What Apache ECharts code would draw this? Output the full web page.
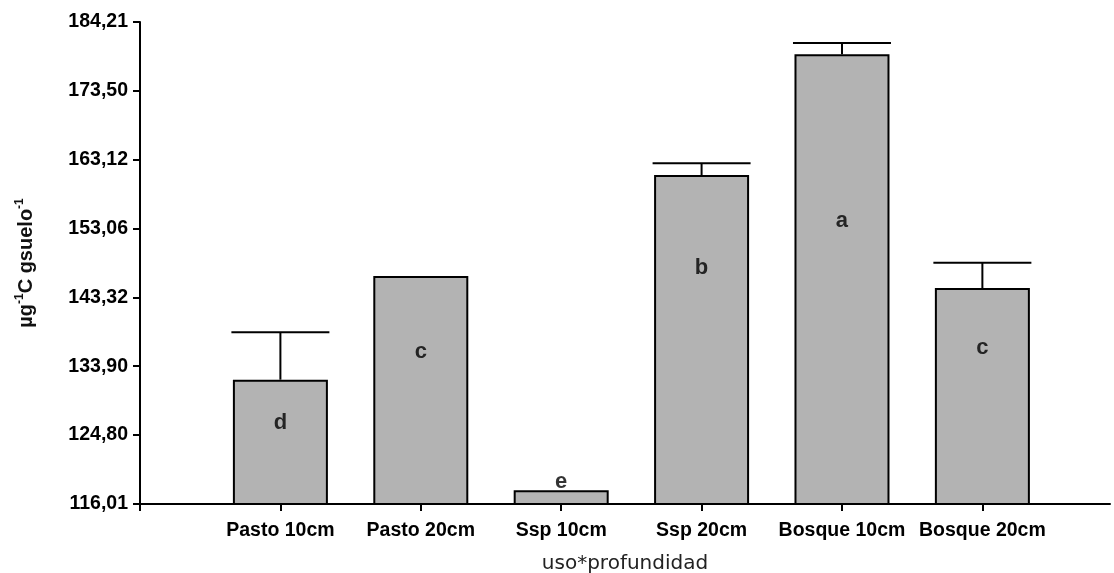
<!DOCTYPE html>
<html>
<head>
<meta charset="utf-8">
<script src="https://cdn.jsdelivr.net/npm/echarts@6/dist/echarts.min.js"></script>
<style>
html,body{margin:0;padding:0;background:#fff;}
#main{width:1114px;height:573px;}
</style>
</head>
<body>
<div id="main"></div>
<script>
// ---- data ----
const categories = ['Pasto 10cm', 'Pasto 20cm', 'Ssp 10cm', 'Ssp 20cm', 'Bosque 10cm', 'Bosque 20cm'];
const means = [132.10, 146.31, 117.73, 160.86, 179.15, 144.63];
const upperErr = [138.50, null, null, 162.59, 180.91, 148.19];
const letters = ['d', 'c', 'e', 'b', 'a', 'c'];
const letterAt = [126.41, 135.86, 118.82, 147.48, 154.15, 136.41];
const yTicks = [116.01, 124.80, 133.90, 143.32, 153.06, 163.12, 173.50, 184.21];

// axis is square-root scaled
const f = v => Math.sqrt(v);
const xPos = categories.map((c, i) => i + 1);

const barData = means.map((v, i) => [xPos[i], f(v)]);
const errData = [];
upperErr.forEach((e, i) => { if (e != null) errData.push([xPos[i], f(means[i]), f(e)]); });
const letterData = letterAt.map((v, i) => ({ value: [xPos[i], f(v)], name: letters[i] }));

const chart = echarts.init(document.getElementById('main'));
const option = {
  animation: false,
  backgroundColor: '#ffffff',
  grid: { left: 140, right: 4, top: 22, bottom: 69, containLabel: false, outerBoundsMode: 'none' },
  xAxis: {
    type: 'value',
    min: 0,
    max: 6.909,
    name: 'uso*profundidad',
    nameLocation: 'middle',
    nameGap: 50,
    nameTextStyle: { fontFamily: 'DejaVu Sans', fontSize: 20, color: '#222' },
    axisLine: { show: true, lineStyle: { color: '#000', width: 2 } },
    axisTick: { show: true, length: 7, lineStyle: { color: '#000', width: 2 }, customValues: [0].concat(xPos) },
    axisLabel: {
      customValues: xPos,
      formatter: v => categories[Math.round(v) - 1] || '',
      fontFamily: 'Liberation Sans, Arial', fontWeight: 'bold', fontSize: 19.5, color: '#000', margin: 17
    },
    splitLine: { show: false }
  },
  yAxis: {
    type: 'value',
    min: f(yTicks[0]),
    max: f(yTicks[yTicks.length - 1]),
    name: '{b|µg}{s|-1}{b|C gsuelo}{s|-1}',
    nameLocation: 'middle',
    nameRotate: 90,
    nameGap: 104,
    nameTextStyle: {
      rich: {
        b: { fontFamily: 'Liberation Sans, Arial', fontWeight: 'bold', fontSize: 20, color: '#111', lineHeight: 22, verticalAlign: 'bottom' },
        s: { fontFamily: 'Liberation Sans, Arial', fontWeight: 'bold', fontSize: 12, color: '#111', lineHeight: 12, verticalAlign: 'top' }
      }
    },
    axisLine: { show: true, lineStyle: { color: '#000', width: 2 } },
    axisTick: { show: true, length: 7, lineStyle: { color: '#000', width: 2 }, customValues: yTicks.map(f) },
    axisLabel: {
      customValues: yTicks.map(f),
      formatter: v => (v * v).toFixed(2).replace('.', ','),
      fontFamily: 'Liberation Sans, Arial', fontWeight: 'bold', fontSize: 19.5, color: '#000', margin: 12
    },
    splitLine: { show: false }
  },
  series: [
    {
      type: 'bar',
      data: barData,
      barWidth: 95,
      itemStyle: { color: '#b3b3b3', borderColor: '#000', borderWidth: 2 },
      z: 2
    },
    {
      type: 'custom',
      data: errData,
      z: 3,
      renderItem: function (params, api) {
        const x = api.value(0);
        const base = api.coord([x, api.value(1)]);
        const top = api.coord([x, api.value(2)]);
        const half = 49;
        return {
          type: 'group',
          children: [
            { type: 'line', shape: { x1: base[0], y1: base[1], x2: top[0], y2: top[1] }, style: { stroke: '#000', lineWidth: 2 } },
            { type: 'line', shape: { x1: top[0] - half, y1: top[1], x2: top[0] + half, y2: top[1] }, style: { stroke: '#000', lineWidth: 2 } }
          ]
        };
      }
    },
    {
      type: 'scatter',
      data: letterData,
      symbolSize: 1,
      itemStyle: { color: 'rgba(0,0,0,0)' },
      z: 4,
      label: {
        show: true,
        position: 'inside',
        formatter: p => p.name,
        fontFamily: 'Liberation Sans, Arial', fontWeight: 'bold', fontSize: 22, color: '#000',
        textBorderWidth: 0
      }
    }
  ]
};
chart.setOption(option);
</script>
</body>
</html>
